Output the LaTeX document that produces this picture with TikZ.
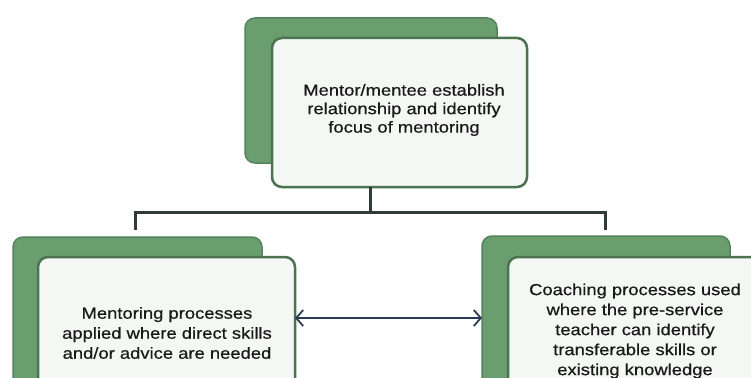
\documentclass[tikz,border=0pt]{standalone}
\usepackage{fontspec}
\setmainfont{Liberation Sans}[FakeStretch=1.15, FakeBold=0.6]
\usetikzlibrary{arrows.meta}
\definecolor{leaf}{HTML}{6B9E6F}
\definecolor{leafedge}{HTML}{53835A}
\definecolor{pane}{HTML}{F5F7F5}
\definecolor{paneedge}{HTML}{4A7350}
\definecolor{wire}{HTML}{2F3B33}
\definecolor{navy}{HTML}{2B3A55}
\tikzset{
  backbox/.style={draw=leafedge, line width=1.5pt, fill=leaf, rounded corners=10pt,
    anchor=north west, inner sep=0pt, outer sep=0pt},
  frontbox/.style={draw=paneedge, line width=2.5pt, fill=pane, rounded corners=10pt,
    anchor=north west, inner sep=0pt, outer sep=0pt},
  label/.style={align=center, font=\fontsize{16}{20}\selectfont, text=black!90},
  conn/.style={draw=wire, line width=3pt},
  link/.style={draw=navy, line width=1.8pt, {Straight Barb[length=7pt,width=16pt]}-{Straight Barb[length=7pt,width=16pt]}}
}
\begin{document}
\begin{tikzpicture}[x=1pt, y=-1pt]
\useasboundingbox (0,0) rectangle (751,377);
\fill[white] (0,0) rectangle (751,377);
\clip (0,0) rectangle (751,377);

% top pair
\node[backbox, minimum width=252pt, minimum height=145pt] (tback) at (245,18) {};
\node[frontbox, minimum width=255pt, minimum height=149pt] (tfront) at (272,38) {};
\node[label, font=\fontsize{16}{18.5}\selectfont] (ttext) at (404,110) {Mentor/mentee establish\\relationship and identify\\focus of mentoring};

% left pair
\node[backbox, minimum width=249pt, minimum height=190pt] (lback) at (13,237) {};
\node[frontbox, minimum width=257pt, minimum height=190pt] (lfront) at (38,257) {};
\node[label] (ltext) at (167,333) {Mentoring processes\\applied where direct skills\\and/or advice are needed};

% right pair
\node[backbox, minimum width=248pt, minimum height=190pt] (rback) at (482,236) {};
\node[frontbox, minimum width=262pt, minimum height=190pt] (rfront) at (508,257) {};
\node[label] (rtext) at (635,331) {Coaching processes used\\where the pre-service\\teacher can identify\\transferable skills or\\existing knowledge};

% tree connectors
\coordinate (hub) at (370,212);
\coordinate (lend) at (135,230);
\coordinate (rend) at (605,230);
\draw[conn] (hub |- tfront.south) -- (hub);
\draw[conn] (lend) |- (hub) -| (rend);

% two-way link between the lower boxes
\coordinate (linky) at (0,318);
\draw[link] (lfront.east |- linky) -- (rback.west |- linky);
\end{tikzpicture}
\end{document}
